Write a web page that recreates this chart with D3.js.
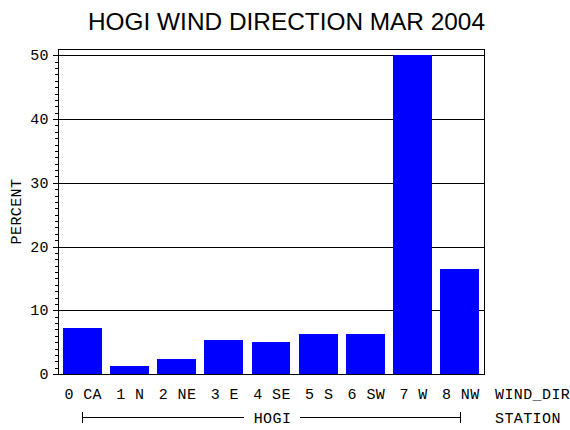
<!DOCTYPE html>
<html>
<head>
<meta charset="utf-8">
<script src="https://cdn.jsdelivr.net/npm/d3@7"></script>
<style>
  body { margin: 0; background: #fff; }
  svg { display: block; }
  .mono { font-family: 'Liberation Mono', monospace; font-size: 15px; letter-spacing: 0.4px; fill: #000; }
</style>
</head>
<body>
<div id="chart"></div>
<script>
// data
const categories = ['0 CA', '1 N', '2 NE', '3 E', '4 SE', '5 S', '6 SW', '7 W', '8 NW']
const percent = [7.2, 1.3, 2.4, 5.3, 5.0, 6.3, 6.3, 50.0, 16.5]
const yTicks = [0, 10, 20, 30, 40, 50]
const station = 'HOGI'

const W = 570, H = 430
const plotLeft = 58, plotRight = 484, plotTop = 49, plotBottom = 374

let svg = d3.select('#chart').append('svg')
  .attr('width', W).attr('height', H)
  .attr('shape-rendering', 'crispEdges')

let x = d3.scaleBand().domain(categories).range([plotLeft, plotRight])
  .paddingInner(0.175).paddingOuter(0.1)
let y = d3.scaleLinear().domain([0, 51]).range([plotBottom, plotTop])

// title
svg.append('text')
  .text('HOGI WIND DIRECTION MAR 2004')
  .attr('x', 286.5).attr('y', 30)
  .attr('text-anchor', 'middle')
  .attr('textLength', 397).attr('lengthAdjust', 'spacingAndGlyphs')
  .style('font-family', "'Liberation Sans', Arial, sans-serif")
  .style('font-size', '24px')

// gridlines
svg.append('g').selectAll('line')
  .data(yTicks.filter(d => d > 0))
  .enter().append('line')
  .attr('x1', plotLeft).attr('x2', plotRight)
  .attr('y1', d => Math.round(y(d)) + 0.5).attr('y2', d => Math.round(y(d)) + 0.5)
  .attr('stroke', '#000')

// bars
svg.append('g').selectAll('rect')
  .data(percent)
  .enter().append('rect')
  .attr('x', (d, i) => x(categories[i]))
  .attr('width', x.bandwidth())
  .attr('y', d => y(d))
  .attr('height', d => y(0) - y(d))
  .attr('fill', '#0000ff')

// frame
svg.append('rect')
  .attr('x', plotLeft + 0.5).attr('y', plotTop + 0.5)
  .attr('width', plotRight - plotLeft).attr('height', plotBottom - plotTop)
  .attr('fill', 'none').attr('stroke', '#000')

// y axis: minor ticks then major
let minor = d3.range(0, 51)
svg.append('g').selectAll('line')
  .data(minor)
  .enter().append('line')
  .attr('x1', d => d % 10 === 0 ? plotLeft - 5 : plotLeft - 3).attr('x2', plotLeft)
  .attr('y1', d => Math.round(y(d)) + 0.5).attr('y2', d => Math.round(y(d)) + 0.5)
  .attr('stroke', '#000')

svg.append('g').selectAll('text')
  .data(yTicks)
  .enter().append('text')
  .attr('class', 'mono')
  .attr('x', 49).attr('y', d => y(d) + 5)
  .attr('text-anchor', 'end')
  .text(d => d)

svg.append('text')
  .attr('class', 'mono')
  .attr('transform', 'translate(21,' + (plotTop + plotBottom) / 2 + ') rotate(-90)')
  .attr('text-anchor', 'middle')
  .text('PERCENT')

// x labels
svg.append('g').selectAll('text')
  .data(categories)
  .enter().append('text')
  .attr('class', 'mono')
  .attr('x', d => x(d) + x.bandwidth() / 2 + 1)
  .attr('y', 399)
  .attr('text-anchor', 'middle')
  .text(d => d)

svg.append('text').attr('class', 'mono')
  .attr('x', 495).attr('y', 399).text('WIND_DIR')
svg.append('text').attr('class', 'mono')
  .attr('x', 495).attr('y', 423).text('STATION')

// station bracket
let bx1 = Math.round(x(categories[0]) + x.bandwidth() / 2) + 0.5
let bx2 = Math.round(x(categories[categories.length - 1]) + x.bandwidth() / 2) + 0.5
let bmid = (bx1 + bx2) / 2
let by = 417.5
let bracket = svg.append('g').attr('stroke', '#000')
bracket.append('line').attr('x1', bx1).attr('x2', bmid - 28).attr('y1', by).attr('y2', by)
bracket.append('line').attr('x1', bmid + 28).attr('x2', bx2).attr('y1', by).attr('y2', by)
bracket.append('line').attr('x1', bx1).attr('x2', bx1).attr('y1', 412).attr('y2', 423)
bracket.append('line').attr('x1', bx2).attr('x2', bx2).attr('y1', 412).attr('y2', 423)
svg.append('text').attr('class', 'mono')
  .attr('x', bmid + 1).attr('y', 423)
  .attr('text-anchor', 'middle')
  .text(station)
</script>
</body>
</html>
